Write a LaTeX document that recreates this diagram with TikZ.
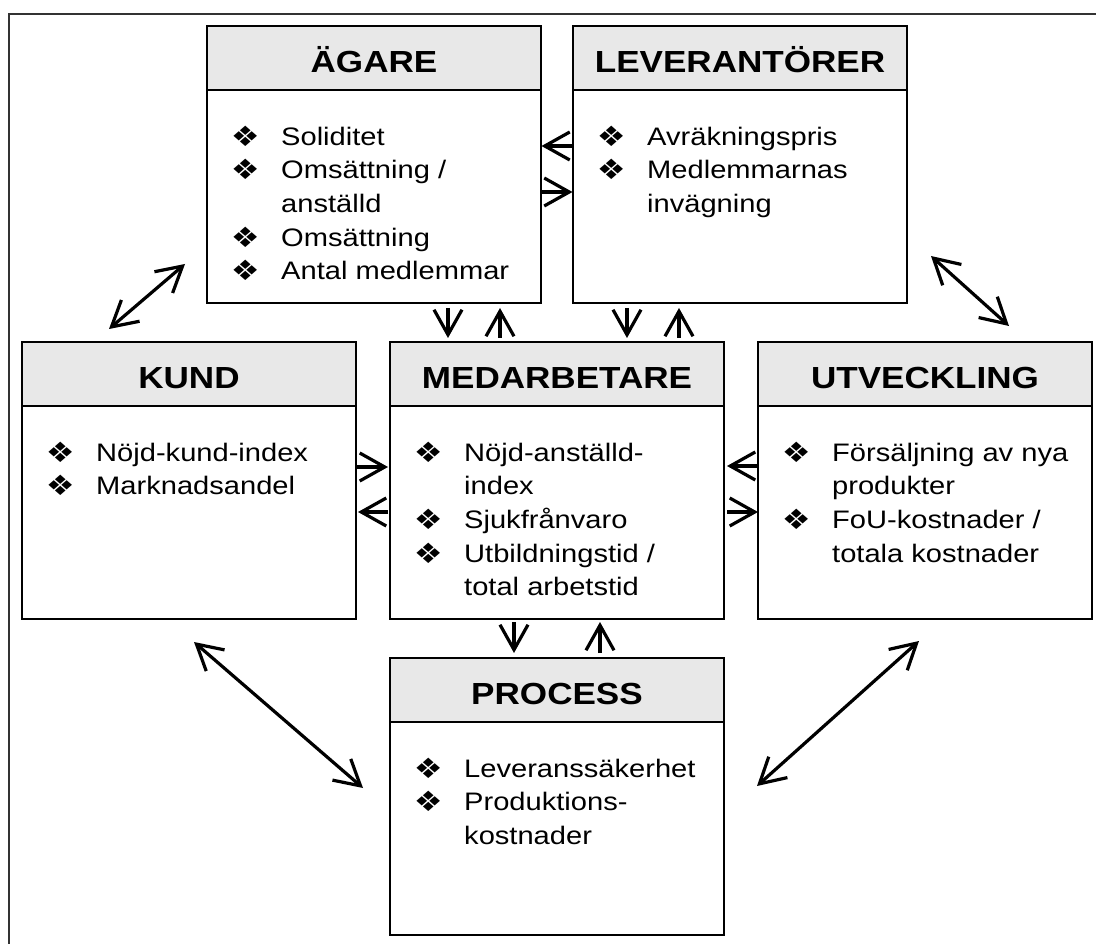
\documentclass[tikz,border=0pt]{standalone}
\usepackage{fontspec}
\setmainfont{Liberation Sans}[FakeStretch=1.15]
\newfontfamily\symfont{DejaVu Sans}[FakeStretch=1.15]
\usetikzlibrary{arrows.meta,calc}

\definecolor{headgray}{HTML}{E8E8E8}
\definecolor{framegray}{HTML}{333333}

% bullet glyph, centred in a fixed-width slot
\newcommand{\bul}{\makebox[20pt][c]{\raisebox{-1pt}{\symfont\fontsize{28}{28}\selectfont ❖}}}

\tikzset{
  boxshape/.style={minimum width=334pt, minimum height=277pt, inner sep=0pt, outer sep=0pt},
  edge/.style={draw=black, line width=1.6pt},
  titletext/.style={anchor=base, inner sep=0pt, font=\fontsize{30.5}{36}\selectfont\bfseries},
  bodytext/.style={anchor=north west, inner sep=0pt, align=left, font=\fontsize{25.3}{33.6}\selectfont},
  tipshape/.tip={Straight Barb[length=25pt,width=28pt]},
  arr/.style={line width=3.2pt, -tipshape},
  dblarr/.style={line width=3.2pt, tipshape-tipshape},
}

% card: name, centre, title, list rows
\newcommand{\card}[4]{%
  \node[boxshape] (#1) at (#2) {};
  \fill[headgray] (#1.north west) rectangle ($(#1.north east)+(0,64)$);
  \draw[edge] (#1.north west) rectangle (#1.south east);
  \draw[edge] ($(#1.north west)+(0,64)$) -- ($(#1.north east)+(0,64)$);
  \node[titletext] (#1-title) at ($(#1.north)+(0,46.5)$) {#3};
  \node[bodytext] (#1-body) at ($(#1.north west)+(28,95.5)$)
    {\begin{tabular}{@{}l@{\hspace{26pt}}l@{}}#4\end{tabular}};
}

\begin{document}
\begin{tikzpicture}[x=1pt,y=-1pt]
\useasboundingbox (0,0) rectangle (1096,944);

% outer frame
\draw[framegray, line width=2pt] (1096,14) -- (9,14) -- (9,944);

% cards
\card{ag}{374,164.5}{ÄGARE}{%
  \bul & Soliditet\\
  \bul & Omsättning /\\
       & anställd\\
  \bul & Omsättning\\
  \bul & Antal medlemmar}
\card{le}{740,164.5}{LEVERANTÖRER}{%
  \bul & Avräkningspris\\
  \bul & Medlemmarnas\\
       & invägning}
\card{ku}{189,480.5}{KUND}{%
  \bul & Nöjd-kund-index\\
  \bul & Marknadsandel}
\card{me}{557,480.5}{MEDARBETARE}{%
  \bul & Nöjd-anställd-\\
       & index\\
  \bul & Sjukfrånvaro\\
  \bul & Utbildningstid /\\
       & total arbetstid}
\card{ut}{925,480.5}{UTVECKLING}{%
  \bul & Försäljning av nya\\
       & produkter\\
  \bul & FoU-kostnader /\\
       & totala kostnader}
\card{pr}{557,796.5}{PROCESS}{%
  \bul & Leveranssäkerhet\\
  \bul & Produktions-\\
       & kostnader}

% short paired arrows between neighbouring cards
\draw[arr, shorten >=0.5pt] (le.west |- 0,146) -- (ag.east |- 0,146);
\draw[arr, shorten >=0.5pt] (ag.east |- 0,192) -- (le.west |- 0,192);

\draw[arr, shorten <=5pt, shorten >=4pt] (ag.south -| 448,0) -- (me.north -| 448,0);
\draw[arr, shorten <=4pt, shorten >=5pt] (me.north -| 500,0) -- (ag.south -| 500,0);
\draw[arr, shorten <=5pt, shorten >=4pt] (le.south -| 627,0) -- (me.north -| 627,0);
\draw[arr, shorten <=4pt, shorten >=5pt] (me.north -| 679,0) -- (le.south -| 679,0);

\draw[arr, shorten >=2pt] (ku.east |- 0,467) -- (me.west |- 0,467);
\draw[arr, shorten <=2pt, shorten >=2pt] (me.west |- 0,512) -- (ku.east |- 0,512);
\draw[arr, shorten >=3pt] (ut.west |- 0,466) -- (me.east |- 0,466);
\draw[arr, shorten <=3pt] (me.east |- 0,512) -- (ut.west |- 0,512);

\draw[arr, shorten <=3pt, shorten >=5pt] (me.south -| 514,0) -- (pr.north -| 514,0);
\draw[arr, shorten <=5pt, shorten >=3pt] (pr.north -| 600,0) -- (me.south -| 600,0);

% diagonal two-way arrows
\coordinate (agku-a) at (185,264);
\coordinate (agku-b) at (109,329);
\coordinate (leut-a) at (931,256);
\coordinate (leut-b) at (1009,326);
\coordinate (kupr-a) at (194,642);
\coordinate (kupr-b) at (363,788);
\coordinate (utpr-a) at (919,641);
\coordinate (utpr-b) at (757,786);
\draw[dblarr] (agku-a) -- (agku-b);
\draw[dblarr] (leut-a) -- (leut-b);
\draw[dblarr] (kupr-a) -- (kupr-b);
\draw[dblarr] (utpr-a) -- (utpr-b);
\end{tikzpicture}
\end{document}
